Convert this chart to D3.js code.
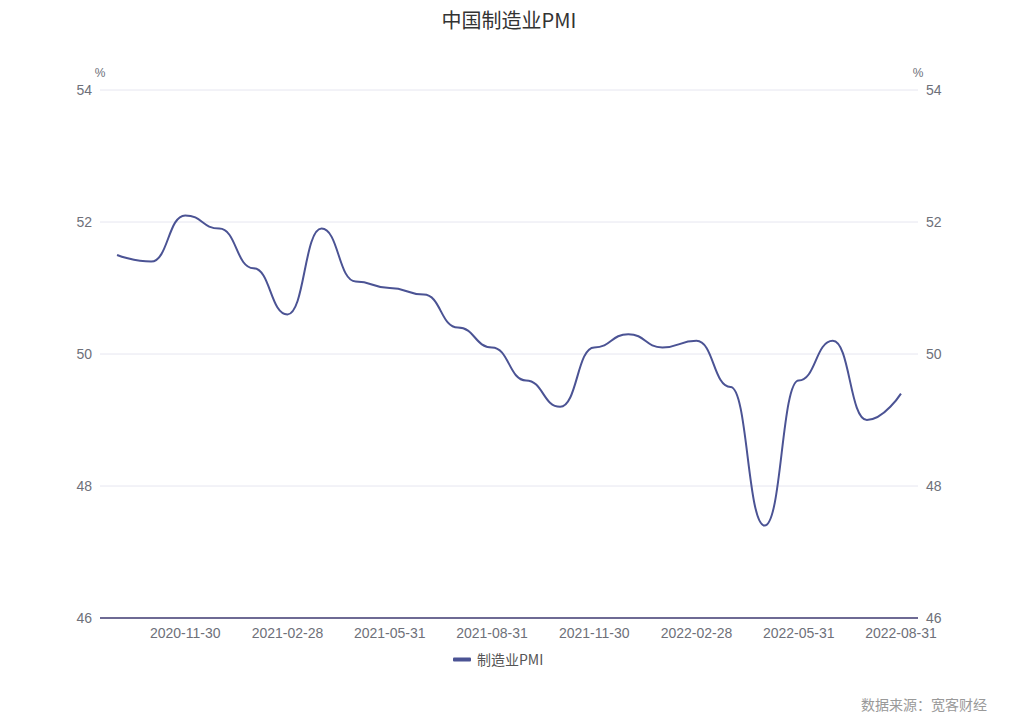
<!DOCTYPE html>
<html><head><meta charset="utf-8">
<script src="https://cdn.jsdelivr.net/npm/d3@7"></script>
<style>body{margin:0;background:#fff;font-family:"Liberation Sans","Noto Sans CJK SC",sans-serif;}</style>
</head><body><svg id="c" width="1019" height="718"></svg>
<script>
const categories = ["2020-09-30","2020-10-31","2020-11-30","2020-12-31","2021-01-31","2021-02-28","2021-03-31","2021-04-30","2021-05-31","2021-06-30","2021-07-31","2021-08-31","2021-09-30","2021-10-31","2021-11-30","2021-12-31","2022-01-31","2022-02-28","2022-03-31","2022-04-30","2022-05-31","2022-06-30","2022-07-31","2022-08-31"];
const pmiValues = [51.5,51.4,52.1,51.9,51.3,50.6,51.9,51.1,51.0,50.9,50.4,50.1,49.6,49.2,50.1,50.3,50.1,50.2,49.5,47.4,49.6,50.2,49.0,49.4];
const yTicks = [46,48,50,52,54];
const xTickLabels = ["2020-11-30","2021-02-28","2021-05-31","2021-08-31","2021-11-30","2022-02-28","2022-05-31","2022-08-31"];
const seriesName = "制造业PMI";
const titleText = "中国制造业PMI";
const sourceText = "数据来源：宽客财经";

const svg = d3.select("#c");
const L = 100, R = 918, T = 90, B = 618;
const x = d3.scaleBand().domain(categories).range([L, R]);
const y = d3.scaleLinear().domain([46, 54]).range([B, T]);
const cx = d => x(d) + x.bandwidth() / 2;

// ECharts-style smooth (smoothMonotone 'x') path generator on scaled points
function smoothPath(pts, smooth) {
  const p = d3.path();
  let cpx0, cpy0, prevX, prevY;
  const n = pts.length;
  for (let k = 0; k < n; k++) {
    const [xx, yy] = pts[k];
    if (k === 0) { p.moveTo(xx, yy); cpx0 = xx; cpy0 = yy; }
    else {
      let cpx1, cpy1, nextCpx0, nextCpy0;
      if (k === n - 1) { cpx1 = xx; cpy1 = yy; nextCpx0 = xx; nextCpy0 = yy; }
      else {
        const nextX = pts[k + 1][0];
        cpx1 = xx - Math.abs(xx - prevX) * smooth; cpy1 = yy;
        nextCpx0 = xx + Math.abs(nextX - xx) * smooth; nextCpy0 = yy;
      }
      p.bezierCurveTo(cpx0, cpy0, cpx1, cpy1, xx, yy);
      cpx0 = nextCpx0; cpy0 = nextCpy0;
    }
    prevX = xx; prevY = yy;
  }
  return p.toString();
}

svg.append("text").attr("x", 509).attr("y", 28).attr("text-anchor", "middle")
  .attr("font-size", 20).attr("fill", "#333").attr("font-family", "Noto Sans CJK SC").text(titleText);

// grid
svg.append("g").selectAll("line").data(yTicks.filter(t => t !== 46)).join("line")
  .attr("x1", L).attr("x2", R).attr("y1", d => y(d)).attr("y2", d => y(d))
  .attr("stroke", "#E6E6F0").attr("stroke-width", 1);

// y labels
const yl = svg.append("g").attr("font-size", 14).attr("fill", "#6E7079");
yl.selectAll("text.l").data(yTicks).join("text").attr("class", "l")
  .attr("x", L - 8).attr("y", d => y(d)).attr("dy", "0.35em").attr("text-anchor", "end").text(d => d);
yl.selectAll("text.r").data(yTicks).join("text").attr("class", "r")
  .attr("x", R + 8).attr("y", d => y(d)).attr("dy", "0.35em").attr("text-anchor", "start").text(d => d);
svg.append("text").attr("x", L).attr("y", 77).attr("text-anchor", "middle").attr("font-size", 12).attr("fill", "#6E7079").text("%");
svg.append("text").attr("x", R).attr("y", 77).attr("text-anchor", "middle").attr("font-size", 12).attr("fill", "#6E7079").text("%");

// x axis line
svg.append("line").attr("x1", L).attr("x2", R).attr("y1", B).attr("y2", B)
  .attr("stroke", "#6E6A94").attr("stroke-width", 2);

// x labels
svg.append("g").selectAll("text").data(xTickLabels).join("text")
  .attr("x", d => cx(d)).attr("y", 638).attr("text-anchor", "middle")
  .attr("font-size", 14).attr("fill", "#6E7079").text(d => d);

// line
const pts = pmiValues.map((v, i) => [cx(categories[i]), y(v)]);
svg.append("path").attr("d", smoothPath(pts, 0.5)).attr("fill", "none")
  .attr("stroke", "#4B5394").attr("stroke-width", 2);

// legend
svg.append("rect").attr("x", 453).attr("y", 657.5).attr("width", 18).attr("height", 4).attr("rx", 1).attr("fill", "#4B5394");
svg.append("text").attr("x", 477).attr("y", 665).attr("font-size", 14).attr("fill", "#555").attr("font-family", "Noto Sans CJK SC").text(seriesName);

svg.append("text").attr("x", 987).attr("y", 710).attr("text-anchor", "end").attr("font-size", 14).attr("fill", "#999").attr("font-family", "Noto Sans CJK SC").text(sourceText);
</script></body></html>
